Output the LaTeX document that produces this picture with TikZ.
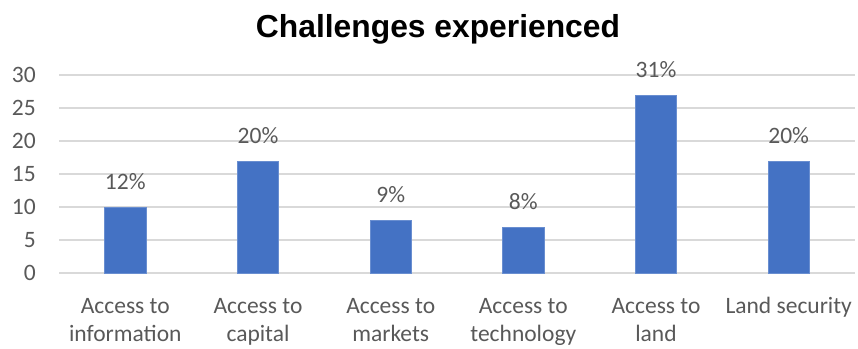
\documentclass[tikz,border=0pt]{standalone}
\usepackage{fontspec}
\setmainfont{Carlito}
\newfontfamily\titlefont{Liberation Sans}
\definecolor{barblue}{HTML}{4472C4}
\definecolor{labelgray}{HTML}{595959}
\definecolor{gridgray}{HTML}{D9D9D9}
\tikzset{
  grid line/.style={draw=gridgray, line width=1.3pt},
  bar/.style={fill=barblue, draw=barblue!80!white, line width=0.6pt},
  tick label/.style={anchor=base east, inner sep=0pt, text=labelgray, font=\fontsize{23.5}{28}\selectfont},
  value label/.style={anchor=base, inner sep=0pt, text=labelgray, font=\fontsize{23.5}{28}\selectfont},
  cat label/.style={anchor=base, inner sep=0pt, align=center, text=labelgray, font=\fontsize{23.5}{28.5}\selectfont}
}
\begin{document}
\begin{tikzpicture}[x=1pt, y=-1pt]
\useasboundingbox (0,0) rectangle (858,348);
\node [anchor=base, inner sep=0pt, font=\titlefont\bfseries\fontsize{31.8}{36}\selectfont] (title) at (438, 37) {Challenges experienced};
% grid
\draw [grid line] (59, 75) -- (855, 75);
\draw [grid line] (59, 108) -- (855, 108);
\draw [grid line] (59, 141) -- (855, 141);
\draw [grid line] (59, 174) -- (855, 174);
\draw [grid line] (59, 207) -- (855, 207);
\draw [grid line] (59, 240) -- (855, 240);
\draw [grid line] (59, 273) -- (855, 273);
\node [tick label] (t30) at (36, 82.5) {30};
\node [tick label] (t25) at (36, 115.5) {25};
\node [tick label] (t20) at (36, 148.5) {20};
\node [tick label] (t15) at (36, 181.5) {15};
\node [tick label] (t10) at (36, 214.5) {10};
\node [tick label] (t5) at (36, 247.5) {5};
\node [tick label] (t0) at (36, 280.5) {0};
% bars
\fill [bar] (104.7, 273) rectangle (145.9, 207.0);
\fill [bar] (237.4, 273) rectangle (278.6, 160.8);
\fill [bar] (370.1, 273) rectangle (411.3, 220.2);
\fill [bar] (502.7, 273) rectangle (543.9, 226.8);
\fill [bar] (635.4, 273) rectangle (676.6, 94.8);
\fill [bar] (768.1, 273) rectangle (809.3, 160.8);
\node [value label] (v1) at (125.3, 189.5) {12\%};
\node [value label] (v2) at (258.0, 143.3) {20\%};
\node [value label] (v3) at (390.7, 202.7) {9\%};
\node [value label] (v4) at (523.3, 209.3) {8\%};
\node [value label] (v5) at (656.0, 77.3) {31\%};
\node [value label] (v6) at (788.7, 143.3) {20\%};
% categories (base is the last line)
\node [cat label] (c1) at (125.3, 341.5) {Access to\\information};
\node [cat label] (c2) at (258.0, 341.5) {Access to\\capital};
\node [cat label] (c3) at (390.7, 341.5) {Access to\\markets};
\node [cat label] (c4) at (523.3, 341.5) {Access to\\technology};
\node [cat label] (c5) at (656.0, 341.5) {Access to\\land};
\node [cat label] (c6) at (788.7, 313) {Land security};
\end{tikzpicture}
\end{document}
